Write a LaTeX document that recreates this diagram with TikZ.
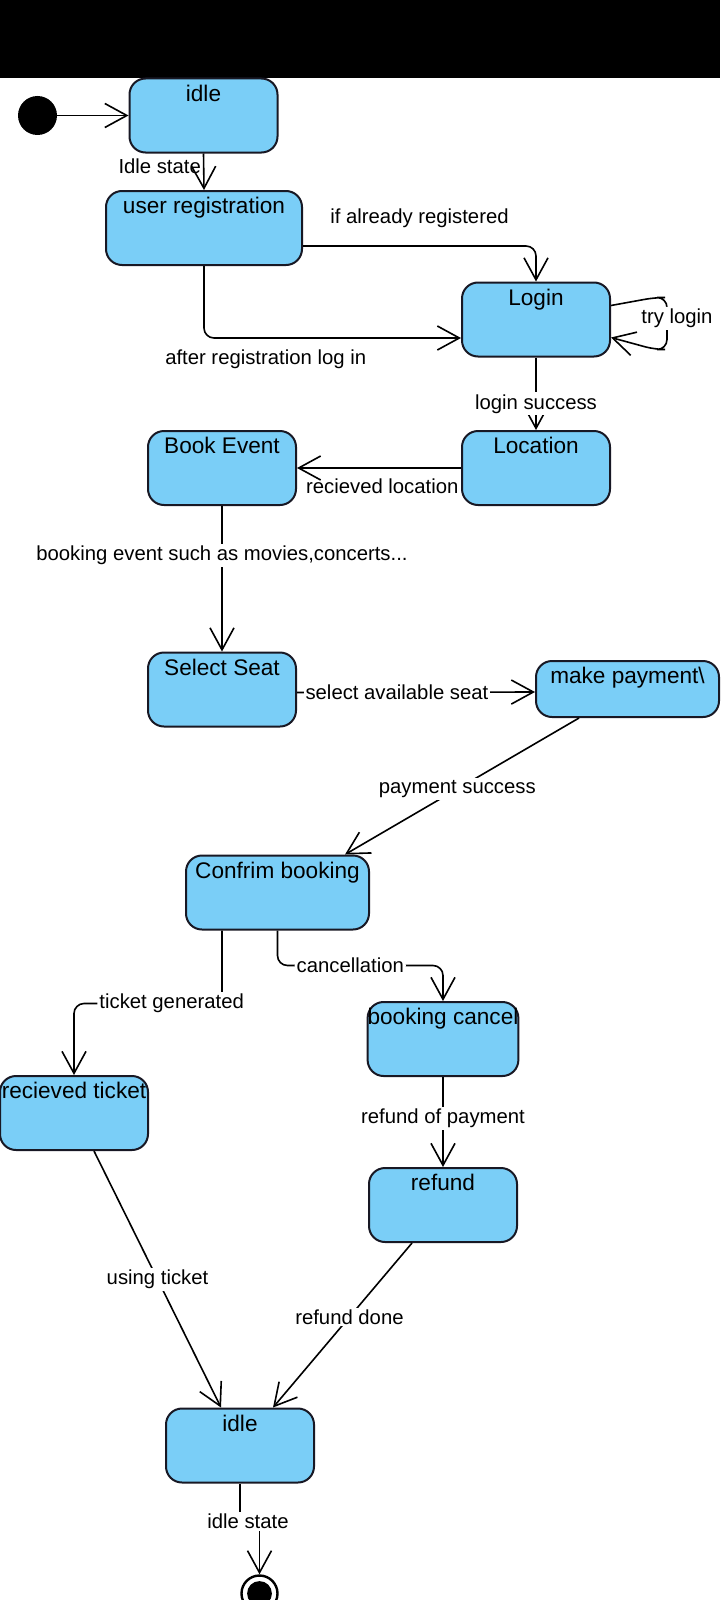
\documentclass[tikz,border=0pt]{standalone}
\usepackage{fontspec}
\setmainfont{Liberation Sans}
\usepackage{xcolor}
\usepackage{tikz}
\usetikzlibrary{
  arrows.meta,
  positioning
}
\definecolor{StateBlue}{RGB}{122, 206, 247}
\definecolor{StateLine}{RGB}{24, 24, 36}
\tikzset{
    statebox/.style={rectangle, draw=StateLine, fill=StateBlue, line width=1pt, rounded corners=8pt,
        inner xsep=0pt, inner ysep=0pt, minimum width=74pt, text height=11.3pt, text depth=25.7pt,
        font=\fontsize{11.3}{13}\selectfont},
    arrowline/.style={draw=black, line width=0.8pt, -{Straight Barb[length=11pt, width=12pt]}},
    edgelabel/.style={fill=white, inner sep=1pt, font=\fontsize{10.15}{12}\selectfont},
}

\begin{document}
\begin{tikzpicture}[x=0.5pt, y=-0.5pt]
            \useasboundingbox (0,0) rectangle (720,1600);
            \fill[black] (0,0) rectangle (720,78);
            % states
            \node[circle, fill=black, minimum size=19.5pt, inner sep=0pt] (start) at (37.5,115.5) {};
            \node[statebox] (idleA) at (203.5,115.5) {idle};
            \node[statebox, minimum width=98pt] (register) at (204,228) {user registration};
            \node[statebox] (login) at (536,319.5) {Login};
            \node[statebox] (location) at (536,468) {Location};
            \node[statebox] (book) at (222,468) {Book Event};
            \node[statebox] (seat) at (222,689.5) {Select Seat};
            \node[statebox, minimum width=91.5pt, text depth=16.7pt] (payment) at (627.5,689) {make payment\textbackslash};
            \node[statebox, minimum width=91.5pt] (confirm) at (277.5,892.5) {Confrim booking};
            \node[statebox] (cancel) at (443,1039) {booking cancel};
            \node[statebox] (ticket) at (74,1113) {recieved ticket};
            \node[statebox] (refund) at (443,1205) {refund};
            \node[statebox] (idleB) at (240,1445.5) {idle};
            \node[circle, draw=black, line width=1.2pt, fill=white, minimum size=18pt, inner sep=0pt,
                  path picture={\fill[black] (path picture bounding box.center) circle (6.2pt);}] (final) at (259.5,1593.5) {};
            % transitions
            \draw[arrowline] (start) -- (idleA);
            \draw[arrowline] (idleA.south) -- node[edgelabel, left=0pt, pos=0.36, fill=none]{Idle state} (register.north);
            \draw[arrowline, rounded corners=5pt] ([yshift=-9pt]register.east) -| node[edgelabel, above=7.5pt, pos=0.25, fill=none]{if already registered} (login.north);
            \draw[arrowline, rounded corners=5pt] (register.south) |- node[edgelabel, below=4.5pt, pos=0.62, fill=none]{after registration log in} ([yshift=-9.25pt]login.west);
            \draw[arrowline, rounded corners=5pt] ([yshift=7pt]login.east) -- ++(22pt,4pt) -- ++(6pt,0pt) -- node[edgelabel, pos=0.4, xshift=5pt]{try login} ++(0pt,-26pt) -- ++(-6pt,0pt) -- ([yshift=-9pt]login.east);
            \draw[arrowline] (login) -- node[edgelabel, pos=0.64]{login success} (location);
            \draw[arrowline] (location) -- node[edgelabel, below=4pt, pos=0.48, fill=none]{recieved location} (book);
            \draw[arrowline] (book) -- node[edgelabel, pos=0.34]{booking event such as movies,concerts...} (seat);
            \draw[arrowline] ([yshift=-1.5pt]seat.east) -- node[edgelabel, pos=0.42]{select available seat} ([yshift=-1.5pt]payment.west);
            \draw[arrowline] ([xshift=-24.25pt]payment.south) -- node[edgelabel, pos=0.52]{payment success} ([xshift=33.75pt]confirm.north);
            \draw[arrowline, rounded corners=5pt] ([xshift=-27.75pt]confirm.south) -- ++(0pt,-36.5pt) -| node[edgelabel, pos=0.17]{ticket generated} (ticket.north);
            \draw[arrowline, rounded corners=5pt] (confirm.south) -- ++(0pt,-17.5pt) -| node[edgelabel, pos=0.22]{cancellation} (cancel.north);
            \draw[arrowline] (cancel) -- node[edgelabel, pos=0.46]{refund of payment} (refund);
            \draw[arrowline] ([xshift=10pt]ticket.south) -- node[edgelabel]{using ticket} ([xshift=-9.5pt]idleB.north);
            \draw[arrowline] ([xshift=-15.5pt]refund.south) -- node[edgelabel, pos=0.45]{refund done} ([xshift=16.5pt]idleB.north);
            \draw[arrowline] (idleB.south) -- ++(0pt,-19pt) node[edgelabel, xshift=4pt]{idle state} -| (final.north);
        \end{tikzpicture}
\end{document}
